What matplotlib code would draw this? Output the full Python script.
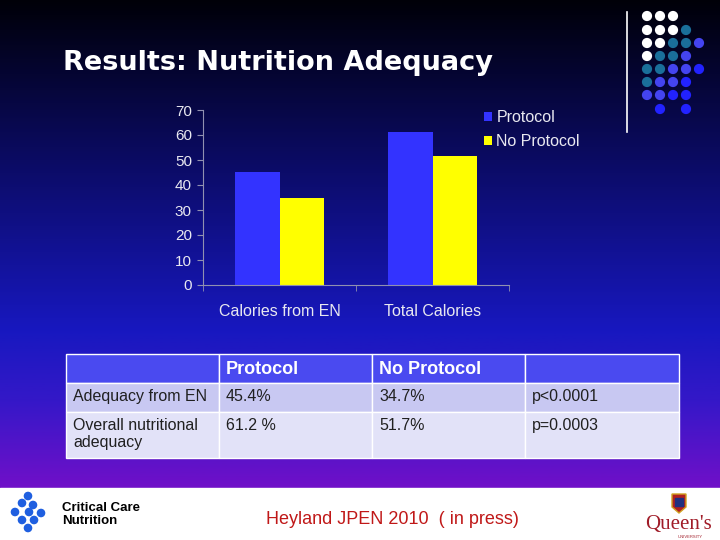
import numpy as np
import matplotlib.pyplot as plt
from matplotlib.colors import LinearSegmentedColormap
from matplotlib.patches import Rectangle, Circle, Polygon

# chart data
categories = ['Calories from EN', 'Total Calories']
protocol = [45.4, 61.2]
noProtocol = [34.7, 51.7]
seriesNames = ['Protocol', 'No Protocol']
yTicks = [0, 10, 20, 30, 40, 50, 60, 70]

# table data
tableHeader = ['', 'Protocol', 'No Protocol', '']
tableRows = [['Adequacy from EN', '45.4%', '34.7%', 'p<0.0001'],
             ['Overall nutritional\nadequacy', '61.2 %', '51.7%', 'p=0.0003']]

plt.rcParams['font.family'] = ['Liberation Sans', 'DejaVu Sans']

fig = plt.figure(figsize=(7.2, 5.4), dpi=100)

# background in pixel coordinates
bg = fig.add_axes([0, 0, 1, 1])
bg.set_xlim(0, 720)
bg.set_ylim(540, 0)
bg.axis('off')
grad = LinearSegmentedColormap.from_list('slide', [
    (0.0, '#000008'), (0.3, '#0a0a5c'), (0.68, '#1818c0'),
    (0.82, '#3418c8'), (1.0, '#7010c8')])
bg.imshow(np.linspace(0, 1, 256).reshape(-1, 1), cmap=grad, aspect='auto',
          extent=[0, 720, 488, 0], zorder=0)
bg.add_patch(Rectangle((0, 488), 720, 52, color='white', zorder=1))

# title
bg.text(63, 63, 'Results: Nutrition Adequacy', color='white', fontsize=19.5,
        fontweight='bold', va='center', ha='left', family='DejaVu Sans')

# decoration in the top right corner
bg.plot([627, 627], [12, 132], color='white', lw=1.2)
W, T, B, D = 'white', '#1a6f9a', '#4444f0', '#2222ff'
dots = [[W, W, W, None, None],
        [W, W, W, T, None],
        [W, W, T, T, B],
        [W, T, T, B, None],
        [T, T, B, B, D],
        [T, B, B, D, None],
        [B, B, D, D, None],
        [None, D, None, D, None]]
colX = [647, 660, 673, 686, 699]
rowY = [16, 30, 43, 56, 69, 82, 95, 109]
for r, row in enumerate(dots):
    for c, col in enumerate(row):
        if col:
            bg.add_patch(Circle((colX[c], rowY[r]), 4.4, color=col, zorder=3))

# table
colEdges = [66, 219, 372, 525, 679]
rowEdges = [354, 383, 412, 458]
rowColors = ['#4a4af0', '#c8c8f2', '#e2e2f8']
for r in range(3):
    for c in range(4):
        bg.add_patch(Rectangle((colEdges[c], rowEdges[r]), colEdges[c + 1] - colEdges[c],
                               rowEdges[r + 1] - rowEdges[r], facecolor=rowColors[r],
                               edgecolor='white', lw=1, zorder=2))
for c, txt in enumerate(tableHeader):
    bg.text(colEdges[c] + 7, (rowEdges[0] + rowEdges[1]) / 2 + 1, txt, color='white',
            fontsize=13, fontweight='bold', va='center', zorder=3)
for r, row in enumerate(tableRows):
    for c, txt in enumerate(row):
        bg.text(colEdges[c] + 7, rowEdges[r + 1] + 6, txt, color='#202020',
                fontsize=11.5, va='top', zorder=3, linespacing=1.2)

# footer
bg.text(392, 519, 'Heyland JPEN 2010  ( in press)', color='#c01818', fontsize=13,
        ha='center', va='center')
ccnDots = [(28, 496), (22, 503), (15, 512), (22, 520), (28, 528),
           (33, 505), (29, 512), (34, 520), (41, 513)]
for x, y in ccnDots:
    bg.add_patch(Circle((x, y), 3.6, color='#1f5fe0', zorder=3))
bg.text(62, 508, 'Critical Care', fontsize=9.5, fontweight='bold', color='black',
        va='center')
bg.text(62, 521, 'Nutrition', fontsize=9.5, fontweight='bold', color='black',
        va='center')
bg.add_patch(Polygon([(672, 494), (686, 494), (686, 507), (679, 513), (672, 507)],
                     closed=True, facecolor='#b02020', edgecolor='#d0a020', lw=1, zorder=3))
bg.add_patch(Rectangle((675, 498), 8, 8, color='#203080', zorder=4))
bg.text(679, 525, "Queen's", fontsize=15, color='#a01c28', family='Liberation Serif',
        ha='center', va='center')
bg.text(690, 537, 'UNIVERSITY', fontsize=3, color='#a01c28', ha='center', va='center')

# bar chart
ax = fig.add_axes([203 / 720, 1 - 285 / 540, 306 / 720, 175 / 540])
ax.patch.set_alpha(0)
x = np.arange(len(categories))
w = 0.29
ax.bar(x - w / 2, protocol, w, color='#3333ff', label=seriesNames[0])
ax.bar(x + w / 2, noProtocol, w, color='#ffff00', label=seriesNames[1])
ax.set_xlim(-0.5, 1.5)
ax.set_ylim(0, 70)
ax.set_yticks(yTicks)
ax.set_xticks(x)
ax.set_xticklabels(categories)
ax.set_xticks([-0.5, 0.5, 1.5], minor=True)
ax.tick_params(axis='x', which='major', length=0, pad=14, labelsize=11.5, labelcolor='#e8e8f0')
ax.tick_params(axis='x', which='minor', length=4, direction='out', color='#9090b0')
ax.tick_params(axis='y', length=4, direction='out', color='#9090b0', labelsize=11,
               labelcolor='#e8e8f0', pad=4)
for s in ['top', 'right']:
    ax.spines[s].set_visible(False)
for s in ['left', 'bottom']:
    ax.spines[s].set_color('#9090b0')
leg = ax.legend(loc='upper left', bbox_to_anchor=(0.87, 1.08), frameon=False, fontsize=11.5,
                handlelength=0.5, handleheight=0.5, handletextpad=0.3, labelspacing=0.55)
for t in leg.get_texts():
    t.set_color('#e8e8f0')

fig.savefig('out.png', dpi=100)
